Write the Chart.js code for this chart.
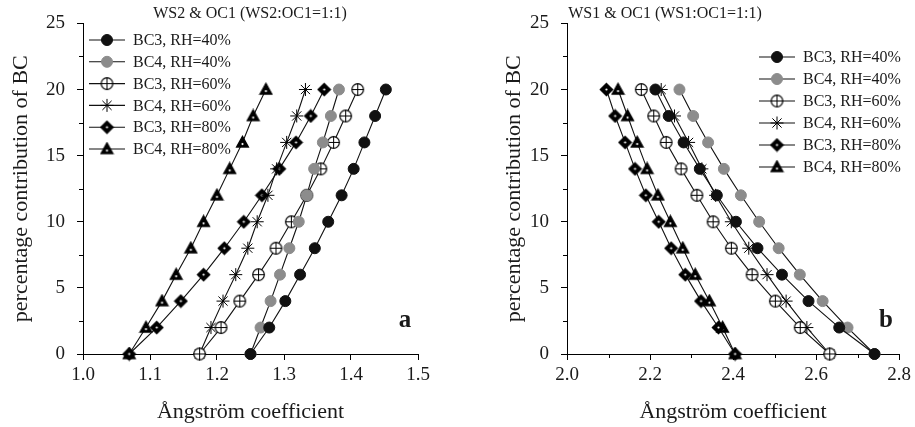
<!DOCTYPE html>
<html lang="en">
<head>
<meta charset="UTF-8">
<title>Angstrom coefficient vs BC contribution</title>
<script src="https://cdn.jsdelivr.net/npm/chart.js"></script>
<style>
  body { margin: 0; background: #fff; }
  #wrap { position: relative; width: 915px; height: 427px; overflow: hidden; }
  #chartA { position: absolute; left: 0; top: 0; }
  #chartB { position: absolute; left: 457px; top: 0; }
</style>
</head>
<body>
<div id="wrap">
  <canvas id="chartA" width="457" height="427"></canvas>
  <canvas id="chartB" width="458" height="427"></canvas>
</div>
<script>
// percentage contribution of BC, shared by every curve
const bcLevels = [0, 2, 4, 6, 8, 10, 12, 14, 16, 18, 20];
const seriesNames = ['BC3, RH=40%', 'BC4, RH=40%', 'BC3, RH=60%', 'BC4, RH=60%', 'BC3, RH=80%', 'BC4, RH=80%'];

// panel a: WS2 & OC1, Angstrom coefficient at each BC level
const aBC3RH40 = [1.250, 1.278, 1.302, 1.324, 1.346, 1.366, 1.386, 1.404, 1.420, 1.436, 1.452];
const aBC4RH40 = [1.250, 1.265, 1.280, 1.294, 1.308, 1.322, 1.334, 1.345, 1.358, 1.370, 1.382];
const aBC3RH60 = [1.174, 1.206, 1.234, 1.262, 1.288, 1.311, 1.334, 1.355, 1.374, 1.392, 1.410];
const aBC4RH60 = [1.174, 1.191, 1.209, 1.228, 1.246, 1.260, 1.276, 1.289, 1.304, 1.319, 1.332];
const aBC3RH80 = [1.069, 1.110, 1.146, 1.180, 1.211, 1.240, 1.267, 1.293, 1.318, 1.340, 1.360];
const aBC4RH80 = [1.069, 1.094, 1.118, 1.139, 1.161, 1.180, 1.200, 1.219, 1.238, 1.254, 1.273];

// panel b: WS1 & OC1
const bBC3RH40 = [2.741, 2.656, 2.582, 2.518, 2.459, 2.407, 2.361, 2.320, 2.281, 2.245, 2.213];
const bBC4RH40 = [2.741, 2.676, 2.616, 2.561, 2.510, 2.463, 2.419, 2.378, 2.340, 2.304, 2.271];
const bBC3RH60 = [2.633, 2.562, 2.502, 2.446, 2.396, 2.352, 2.313, 2.275, 2.239, 2.209, 2.179];
const bBC4RH60 = [2.633, 2.578, 2.528, 2.482, 2.438, 2.396, 2.358, 2.325, 2.293, 2.259, 2.227];
const bBC3RH80 = [2.405, 2.365, 2.323, 2.285, 2.251, 2.221, 2.190, 2.164, 2.140, 2.116, 2.095];
const bBC4RH80 = [2.405, 2.375, 2.343, 2.309, 2.279, 2.249, 2.219, 2.193, 2.169, 2.146, 2.123];

// axis ticks
const yTicks = [0, 5, 10, 15, 20, 25];
const yMinorTicks = [2.5, 7.5, 12.5, 17.5, 22.5];
const xTicksA = [1.0, 1.1, 1.2, 1.3, 1.4, 1.5];
const xTicksB = [2.0, 2.2, 2.4, 2.6, 2.8];
const xMinorTicksB = [2.1, 2.3, 2.5, 2.7];

Chart.defaults.font.family = "'Liberation Serif', 'DejaVu Serif', serif";
Chart.defaults.color = '#1a1a1a';

// small canvases for the marker shapes Chart.js has no built-in for
function makeMarker(kind) {
  const c = document.createElement('canvas');
  c.width = 15; c.height = 15;
  const g = c.getContext('2d');
  const m = 7.5;
  g.lineWidth = 1.2;
  g.strokeStyle = '#000';
  g.fillStyle = '#000';
  if (kind === 'crossCircle') {
    g.beginPath(); g.arc(m, m, 5.8, 0, Math.PI * 2);
    g.fillStyle = '#fff'; g.fill(); g.stroke();
    g.lineWidth = 1;
    g.beginPath();
    g.moveTo(m, m - 5.8); g.lineTo(m, m + 5.8);
    g.moveTo(m - 5.8, m); g.lineTo(m + 5.8, m);
    g.stroke();
  } else if (kind === 'diamond') {
    g.beginPath();
    g.moveTo(m, m - 6.2); g.lineTo(m + 6.2, m); g.lineTo(m, m + 6.2); g.lineTo(m - 6.2, m);
    g.closePath(); g.fill(); g.stroke();
    g.fillStyle = '#fff';
    g.beginPath(); g.arc(m, m, 1.1, 0, Math.PI * 2); g.fill();
  } else if (kind === 'triangle') {
    g.beginPath();
    g.moveTo(m, m - 6.2); g.lineTo(m + 6, m + 4.6); g.lineTo(m - 6, m + 4.6);
    g.closePath(); g.fill(); g.stroke();
    g.fillStyle = '#fff';
    g.beginPath(); g.arc(m, m + 1.6, 1.1, 0, Math.PI * 2); g.fill();
  }
  return c;
}

const markerStyles = [
  { pointStyle: 'circle', radius: 5.5, fill: '#111', stroke: '#111' },
  { pointStyle: 'circle', radius: 5.5, fill: '#8c8c8c', stroke: '#8c8c8c' },
  { pointStyle: makeMarker('crossCircle'), radius: 6, fill: '#fff', stroke: '#000' },
  { pointStyle: 'star', radius: 6.5, fill: '#000', stroke: '#000' },
  { pointStyle: makeMarker('diamond'), radius: 6, fill: '#000', stroke: '#000' },
  { pointStyle: makeMarker('triangle'), radius: 6, fill: '#000', stroke: '#000' }
];

function buildDatasets(seriesX) {
  return seriesX.map((xs, i) => ({
    label: seriesNames[i],
    data: xs.map((x, j) => ({ x: x, y: bcLevels[j] })),
    showLine: true,
    borderColor: '#111',
    borderWidth: 1.1,
    pointStyle: markerStyles[i].pointStyle,
    pointRadius: markerStyles[i].radius,
    pointBackgroundColor: markerStyles[i].fill,
    pointBorderColor: markerStyles[i].stroke,
    pointBorderWidth: 1,
    clip: false
  }));
}

function drawMarker(ctx, st, x, y) {
  if (typeof st.pointStyle !== 'string') {
    const img = st.pointStyle;
    ctx.drawImage(img, x - img.width / 2, y - img.height / 2);
    return;
  }
  ctx.fillStyle = st.fill;
  ctx.strokeStyle = st.stroke;
  ctx.lineWidth = 1;
  Chart.helpers.drawPoint(ctx, { pointStyle: st.pointStyle, radius: st.radius, borderWidth: 1, rotation: 0 }, x, y);
}

// legend: line segment with marker, then the series name
const lineLegend = {
  id: 'lineLegend',
  afterDraw(chart, args, o) {
    const ctx = chart.ctx;
    ctx.save();
    chart.data.datasets.forEach((ds, i) => {
      const y = o.top + i * o.step;
      ctx.strokeStyle = '#111';
      ctx.lineWidth = 1.1;
      ctx.beginPath();
      ctx.moveTo(o.x - 18, y); ctx.lineTo(o.x + 18, y);
      ctx.stroke();
      drawMarker(ctx, markerStyles[i], o.x, y);
      ctx.fillStyle = '#1a1a1a';
      ctx.font = "16px 'Liberation Serif', serif";
      ctx.textAlign = 'left';
      ctx.textBaseline = 'middle';
      ctx.fillText(ds.label, o.x + 26, y + 1);
    });
    ctx.restore();
  }
};

// short minor ticks between the labelled ones
const minorTicks = {
  id: 'minorTicks',
  afterDraw(chart, args, o) {
    const ctx = chart.ctx;
    const { x, y } = chart.scales;
    const area = chart.chartArea;
    ctx.save();
    ctx.strokeStyle = '#000';
    ctx.lineWidth = 1;
    ctx.beginPath();
    (o.y || []).forEach(v => {
      const py = Math.round(y.getPixelForValue(v)) + 0.5;
      ctx.moveTo(area.left - 4, py); ctx.lineTo(area.left, py);
    });
    (o.x || []).forEach(v => {
      const px = Math.round(x.getPixelForValue(v)) + 0.5;
      ctx.moveTo(px, area.bottom); ctx.lineTo(px, area.bottom + 4);
    });
    ctx.stroke();
    ctx.restore();
  }
};

// heading over the panel and the bold panel letter
const panelText = {
  id: 'panelText',
  afterDraw(chart, args, o) {
    const ctx = chart.ctx;
    ctx.save();
    ctx.fillStyle = '#1a1a1a';
    ctx.textAlign = 'center';
    ctx.textBaseline = 'middle';
    ctx.font = "16px 'Liberation Serif', serif";
    ctx.fillText(o.title, o.titleX, 14);
    ctx.font = "bold 25px 'Liberation Serif', serif";
    ctx.textBaseline = 'alphabetic';
    ctx.fillText(o.letter, o.letterX, 327);
    ctx.restore();
  }
};

function makeOptions(cfg) {
  return {
    responsive: false,
    devicePixelRatio: 1,
    animation: false,
    layout: { padding: { left: cfg.padLeft, top: 20, right: cfg.padRight, bottom: 0 } },
    scales: {
      x: {
        type: 'linear',
        min: cfg.xTicks[0],
        max: cfg.xTicks[cfg.xTicks.length - 1],
        afterBuildTicks: s => { s.ticks = cfg.xTicks.map(v => ({ value: v })); },
        afterFit: s => { s.height = 73; },
        grid: { drawOnChartArea: false, drawTicks: true, tickLength: 6, tickColor: '#000', tickWidth: 1 },
        border: { display: true, color: '#000', width: 1 },
        ticks: {
          font: { size: 19 },
          padding: 4,
          maxRotation: 0,
          autoSkip: false,
          callback: v => Number(v).toFixed(1)
        },
        title: {
          display: true,
          text: 'Ångström coefficient',
          font: { size: 22 },
          padding: { top: 0, bottom: 2 }
        }
      },
      y: {
        type: 'linear',
        min: 0,
        max: 25,
        afterBuildTicks: s => { s.ticks = yTicks.map(v => ({ value: v })); },
        afterFit: s => { s.width = cfg.yWidth; },
        grid: { drawOnChartArea: false, drawTicks: true, tickLength: 6, tickColor: '#000', tickWidth: 1 },
        border: { display: true, color: '#000', width: 1 },
        ticks: { font: { size: 19 }, padding: 12, autoSkip: false },
        title: {
          display: true,
          text: 'percentage contribution of BC',
          font: { size: 22 },
          padding: { top: 0, bottom: 0 }
        }
      }
    },
    plugins: {
      legend: { display: false },
      tooltip: { enabled: false },
      lineLegend: cfg.legend,
      minorTicks: { y: yMinorTicks, x: cfg.xMinor },
      panelText: cfg.text
    }
  };
}

new Chart(document.getElementById('chartA'), {
  type: 'scatter',
  data: { datasets: buildDatasets([aBC3RH40, aBC4RH40, aBC3RH60, aBC4RH60, aBC3RH80, aBC4RH80]) },
  options: makeOptions({
    padLeft: 8, yWidth: 75, padRight: 39,
    xTicks: xTicksA, xMinor: [],
    legend: { x: 107, top: 40, step: 21.8 },
    text: { title: 'WS2 & OC1 (WS2:OC1=1:1)', titleX: 250, letter: 'a', letterX: 405 }
  }),
  plugins: [lineLegend, minorTicks, panelText]
});

new Chart(document.getElementById('chartB'), {
  type: 'scatter',
  data: { datasets: buildDatasets([bBC3RH40, bBC4RH40, bBC3RH60, bBC4RH60, bBC3RH80, bBC4RH80]) },
  options: makeOptions({
    padLeft: 44, yWidth: 66, padRight: 16,
    xTicks: xTicksB, xMinor: xMinorTicksB,
    legend: { x: 320, top: 57, step: 22 },
    text: { title: 'WS1 & OC1 (WS1:OC1=1:1)', titleX: 208, letter: 'b', letterX: 429 }
  }),
  plugins: [lineLegend, minorTicks, panelText]
});
</script>
</body>
</html>
